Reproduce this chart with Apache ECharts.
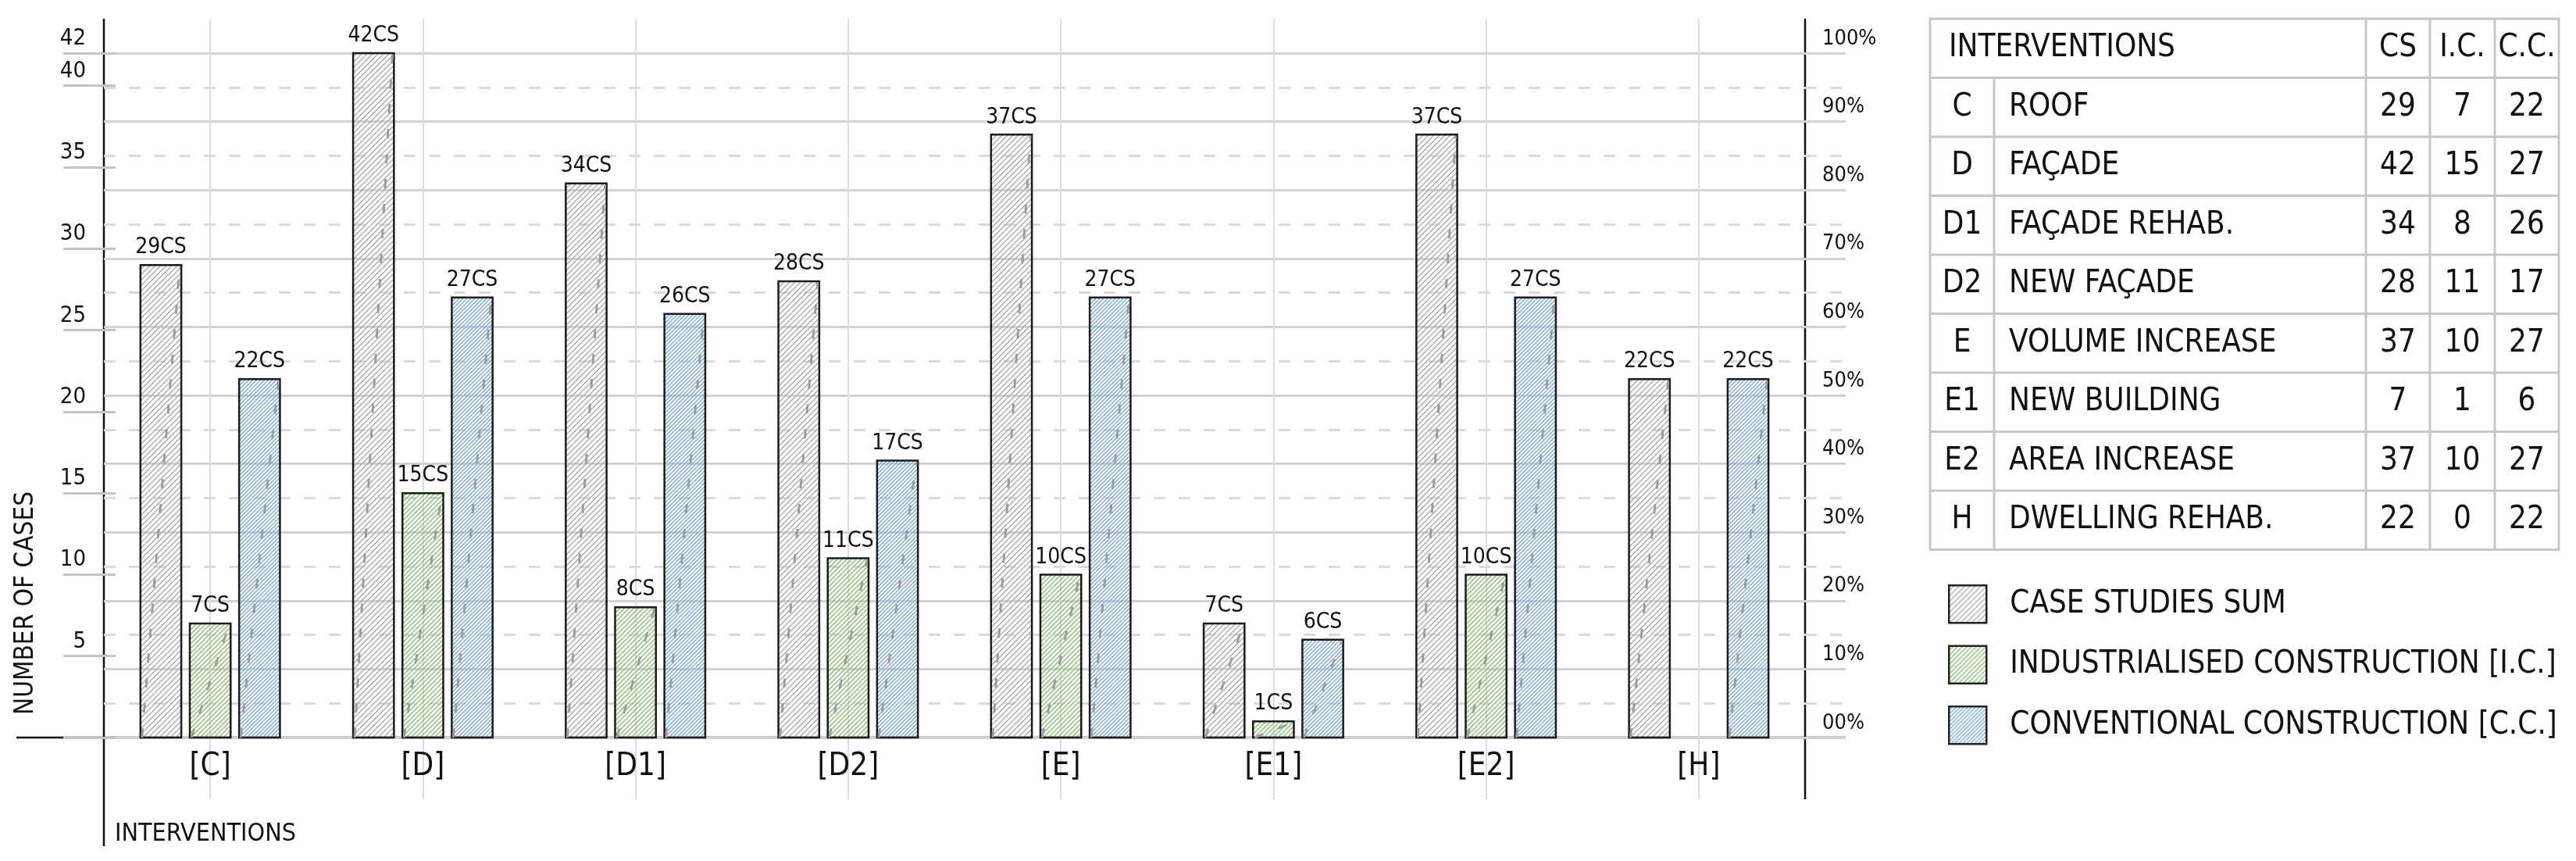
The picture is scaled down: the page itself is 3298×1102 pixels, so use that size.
<!DOCTYPE html>
<html>
<head>
<meta charset="utf-8">
<script src="https://cdn.jsdelivr.net/npm/echarts@6/dist/echarts.min.js"></script>
<style>
  html, body { margin: 0; padding: 0; background: #fff; }
  #chart { width: 3298px; height: 1102px; }
</style>
</head>
<body>
<div id="chart"></div>
<script>
// data
const categories = ['C', 'D', 'D1', 'D2', 'E', 'E1', 'E2', 'H'];
const interventionNames = ['ROOF', 'FAÇADE', 'FAÇADE REHAB.', 'NEW FAÇADE', 'VOLUME INCREASE', 'NEW BUILDING', 'AREA INCREASE', 'DWELLING REHAB.'];
const caseStudies = [29, 42, 34, 28, 37, 7, 37, 22];
const industrialised = [7, 15, 8, 11, 10, 1, 10, 0];
const conventional = [22, 27, 26, 17, 27, 6, 27, 22];
const seriesNames = ['CASE STUDIES SUM', 'INDUSTRIALISED CONSTRUCTION [I.C.]', 'CONVENTIONAL CONSTRUCTION [C.C.]'];
const tableHeaders = ['INTERVENTIONS', 'CS', 'I.C.', 'C.C.'];

const FONT = "'DejaVu Sans Condensed', 'Liberation Sans Narrow', sans-serif";
const INK = '#111';
const GRID = '#d2d2d2';

// diagonal hatch pattern like the CAD fills
function hatch(color, step) {
  const c = document.createElement('canvas');
  c.width = c.height = step;
  const ctx = c.getContext('2d');
  ctx.strokeStyle = color;
  ctx.lineWidth = 1.4;
  ctx.beginPath();
  ctx.moveTo(0, step); ctx.lineTo(step, 0);
  ctx.moveTo(-step / 2, step / 2); ctx.lineTo(step / 2, -step / 2);
  ctx.moveTo(step / 2, step * 1.5); ctx.lineTo(step * 1.5, step / 2);
  ctx.stroke();
  return { image: c, repeat: 'repeat' };
}
const patterns = [hatch('#a9a9a9', 7), hatch('#86bd6f', 6), hatch('#7aa9d9', 5)];

function barRenderer(idx) {
  return function (params, api) {
    const v = api.value(1);
    if (!v) return null;
    const band = api.size([1, 0])[0];
    const bw = band * 0.192, gap = band * 0.04;
    const top = api.coord([api.value(0), v]);
    const base = api.coord([api.value(0), 0])[1];
    const cx = top[0] + (idx - 1) * (bw + gap);
    const x0 = cx - bw / 2;
    return {
      type: 'group',
      children: [
        { type: 'rect', shape: { x: x0, y: top[1], width: bw, height: base - top[1] },
          style: { fill: patterns[idx], stroke: '#1c1c1c', lineWidth: 2.5 } },
        { type: 'line', shape: { x1: x0 + 2, y1: base, x2: x0 + bw - 2, y2: top[1] + 2 },
          style: { stroke: '#9d9d9d', lineWidth: 3, lineDash: [12, 20] } },
        { type: 'text', x: cx, y: top[1] - 8,
          style: { text: v + 'CS', fill: INK, font: '28px ' + FONT, align: 'center', verticalAlign: 'bottom' } }
      ]
    };
  };
}

// table + axis decorations
const tx = [2471, 2553, 3029, 3111, 3194, 3276];
const ty0 = 24, rowH = 75.5;
const nRows = categories.length + 1;
const tyEnd = ty0 + nRows * rowH;
const graphics = [];
const gLine = (x1, y1, x2, y2, stroke, w) => graphics.push({ type: 'line', shape: { x1, y1, x2, y2 }, style: { stroke, lineWidth: w } });
const gText = (x, y, text, size, align) => graphics.push({ type: 'text', x, y,
  style: { text, font: size + 'px ' + FONT, fill: INK, align: align || 'center', verticalAlign: 'middle' } });

const TB = '#c6c6c6';
graphics.push({ type: 'rect', shape: { x: tx[0], y: ty0, width: tx[5] - tx[0], height: tyEnd - ty0 }, style: { fill: 'none', stroke: TB, lineWidth: 3 } });
for (let r = 1; r < nRows; r++) gLine(tx[0], ty0 + r * rowH, tx[5], ty0 + r * rowH, TB, 3);
gLine(tx[1], ty0 + rowH, tx[1], tyEnd, TB, 3);
for (let c = 2; c < 5; c++) gLine(tx[c], ty0, tx[c], tyEnd, TB, 3);
gText(tx[0] + 24, ty0 + rowH / 2, tableHeaders[0], 40, 'left');
for (let c = 1; c < 4; c++) gText((tx[c + 1] + tx[c + 2]) / 2, ty0 + rowH / 2, tableHeaders[c], 40);
categories.forEach((cat, i) => {
  const yc = ty0 + (i + 1.5) * rowH;
  gText((tx[0] + tx[1]) / 2, yc, cat, 40);
  gText(tx[1] + 19, yc, interventionNames[i], 40, 'left');
  gText((tx[2] + tx[3]) / 2, yc, String(caseStudies[i]), 40);
  gText((tx[3] + tx[4]) / 2, yc, String(industrialised[i]), 40);
  gText((tx[4] + tx[5]) / 2, yc, String(conventional[i]), 40);
});

// axis line extensions past the plot area
gLine(133, 24, 133, 1083, INK, 2.5);
gLine(2311, 24, 2311, 1023, INK, 2.5);
gLine(21, 944, 2363, 944, INK, 2.5);
graphics.push({ type: 'text', x: 33, y: 772, rotation: Math.PI / 2,
  style: { text: 'NUMBER OF CASES', font: '33px ' + FONT, fill: INK, align: 'center', verticalAlign: 'middle' } });
gText(147, 1068, 'INTERVENTIONS', 32, 'left');

const chart = echarts.init(document.getElementById('chart'), null, { renderer: 'canvas' });
const seriesData = [caseStudies, industrialised, conventional];

chart.setOption({
  backgroundColor: '#fff',
  animation: false,
  textStyle: { fontFamily: FONT },
  grid: { left: 133, right: 987, top: 68, bottom: 158 },
  legend: {
    orient: 'vertical', left: 2489, top: 743,
    itemWidth: 48, itemHeight: 48, itemGap: 27,
    icon: 'rect', selectedMode: false,
    textStyle: { fontSize: 40, color: INK, fontFamily: FONT, padding: [0, 0, 0, 25] },
    data: seriesNames.map((n, i) => ({ name: n, itemStyle: { color: patterns[i], borderColor: '#222', borderWidth: 2.5 } }))
  },
  xAxis: [
    {
      type: 'category', data: categories.map(c => '[' + c + ']'), boundaryGap: true,
      axisLine: { show: false },
      axisTick: { show: true, inside: true, alignWithLabel: true, length: 920, lineStyle: { color: '#dcdcdc', width: 2 } },
      axisLabel: { fontSize: 40, color: INK, margin: 18, fontFamily: FONT },
      splitLine: { show: false }
    },
    {
      type: 'category', data: categories.map(c => '[' + c + ']'), position: 'bottom',
      axisLine: { show: false }, axisLabel: { show: false }, splitLine: { show: false },
      axisTick: { show: true, alignWithLabel: true, length: 79, lineStyle: { color: '#dcdcdc', width: 2 } }
    }
  ],
  yAxis: [
    {
      type: 'value', position: 'left', min: 0, max: 42, interval: 5,
      axisLine: { show: false },
      axisTick: { show: true, length: 52, lineStyle: { color: '#c4c4c4', width: 3 } },
      axisLabel: { fontSize: 29, color: INK, margin: 23, verticalAlign: 'bottom', padding: [0, 0, 4, 0],
        formatter: v => (v === 0 ? '' : String(v)) },
      splitLine: { show: false }
    },
    {
      type: 'value', position: 'right', min: 0, max: 100, interval: 10,
      axisLine: { show: false },
      axisTick: { show: true, length: 52, lineStyle: { color: GRID, width: 3 } },
      minorTick: { show: true, splitNumber: 2, length: 52, lineStyle: { color: '#dadada', width: 3, type: [15, 17] } },
      axisLabel: { fontSize: 27, color: INK, margin: 22, align: 'left', verticalAlign: 'bottom', padding: [0, 0, 5, 0],
        formatter: v => (v === 0 ? '00' : v) + '%' },
      splitLine: { show: true, lineStyle: { color: GRID, width: 3 } },
      minorSplitLine: { show: true, lineStyle: { color: '#dadada', width: 3, type: [15, 17] } }
    },
    {
      type: 'value', position: 'left', min: 0, max: 42, interval: 5,
      axisLine: { show: false }, axisLabel: { show: false }, splitLine: { show: false },
      axisTick: { show: true, inside: true, length: 15, lineStyle: { color: '#c4c4c4', width: 3 } }
    }
  ],
  graphic: graphics,
  series: seriesNames.map((name, idx) => ({
    name, type: 'custom', xAxisIndex: 0, yAxisIndex: 0,
    itemStyle: { color: patterns[idx], borderColor: '#222' },
    renderItem: barRenderer(idx),
    encode: { x: 0, y: 1 },
    data: seriesData[idx].map((v, i) => [i, v]),
    z: 5
  }))
});
</script>
</body>
</html>
